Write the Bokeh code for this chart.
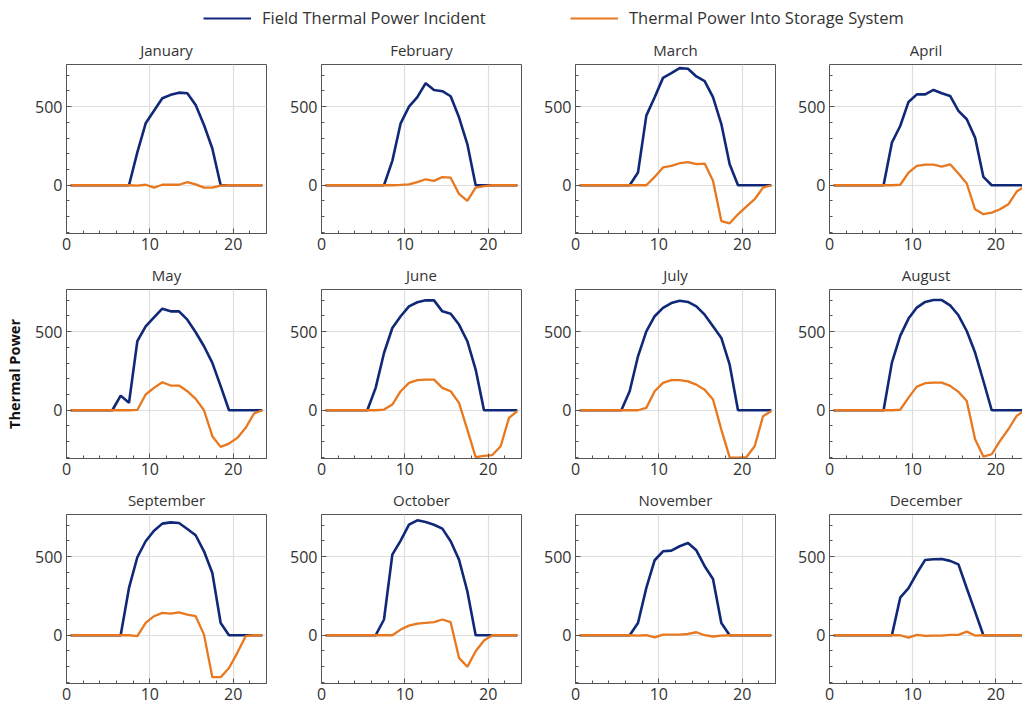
from bokeh.plotting import figure
from bokeh.models import (Range1d, LinearAxis, Legend, LegendItem, SingleIntervalTicker,
                          FixedTicker, ColumnDataSource)
from bokeh.layouts import column, row
from bokeh.embed import file_html
from bokeh.resources import INLINE

# ---------------- data ----------------
months = ["January", "February", "March", "April", "May", "June",
          "July", "August", "September", "October", "November", "December"]

hours = [0.5, 1.5, 2.5, 3.5, 4.5, 5.5, 6.5, 7.5, 8.5, 9.5, 10.5, 11.5,
         12.5, 13.5, 14.5, 15.5, 16.5, 17.5, 18.5, 19.5, 20.5, 21.5, 22.5, 23.5]

field_jan = [0, 0, 0, 0, 0, 0, 0, 0, 209, 394, 474, 553, 575, 589, 585, 510, 383, 234, 0, 0, 0, 0, 0, 0]
store_jan = [0, 0, 0, 0, 0, 0, 0, 0, -2, 3, -15, 3, 3, 3, 20, 5, -15, -15, -3, 0, 0, 0, 0, 0]

field_feb = [0, 0, 0, 0, 0, 0, 0, 0, 155, 394, 500, 560, 649, 606, 598, 566, 432, 262, 0, 0, 0, 0, 0, 0]
store_feb = [0, 0, 0, 0, 0, 0, 0, 0, 0, 2, 5, 20, 38, 28, 52, 48, -55, -100, -15, -5, 0, 0, 0, 0]

field_mar = [0, 0, 0, 0, 0, 0, 0, 81, 443, 560, 683, 713, 745, 741, 692, 662, 560, 389, 134, 0, 0, 0, 0, 0]
store_mar = [0, 0, 0, 0, 0, 0, 0, 0, 0, 53, 113, 123, 140, 147, 134, 138, 28, -228, -242, -185, -136, -89, -15, 0]

field_apr = [0, 0, 0, 0, 0, 0, 0, 271, 377, 530, 578, 578, 606, 585, 568, 473, 420, 303, 53, 0, 0, 0, 0, 0]
store_apr = [0, 0, 0, 0, 0, 0, 0, 0, 3, 80, 123, 131, 131, 119, 133, 74, 11, -153, -184, -174, -153, -121, -40, -5]

field_may = [0, 0, 0, 0, 0, 0, 93, 47, 439, 534, 591, 646, 629, 629, 576, 496, 407, 301, 153, 0, 0, 0, 0, 0]
store_may = [0, 0, 0, 0, 0, 0, 0, 0, 2, 100, 142, 178, 157, 157, 121, 72, 0, -165, -233, -212, -176, -112, -21, 0]

field_jun = [0, 0, 0, 0, 0, 0, 142, 364, 523, 598, 661, 687, 699, 699, 629, 614, 545, 439, 259, 0, 0, 0, 0, 0]
store_jun = [0, 0, 0, 0, 0, 0, 0, 4, 36, 121, 174, 191, 195, 195, 142, 121, 47, -123, -298, -290, -285, -229, -49, -5]

field_jul = [0, 0, 0, 0, 0, 0, 121, 343, 502, 598, 651, 682, 697, 689, 661, 608, 534, 460, 290, 0, 0, 0, 0, 0]
store_jul = [0, 0, 0, 0, 0, 0, 0, 0, 15, 121, 174, 191, 191, 184, 163, 131, 68, -123, -300, -301, -299, -229, -38, -5]

field_aug = [0, 0, 0, 0, 0, 0, 0, 303, 473, 583, 653, 689, 701, 701, 667, 604, 504, 367, 186, 0, 0, 0, 0, 0]
store_aug = [0, 0, 0, 0, 0, 0, 0, 0, 3, 80, 150, 172, 176, 176, 155, 117, 59, -184, -295, -280, -195, -121, -36, 0]

field_sep = [0, 0, 0, 0, 0, 0, 0, 301, 496, 598, 665, 710, 718, 714, 676, 636, 534, 396, 78, 0, 0, 0, 0, 0]
store_sep = [0, 0, 0, 0, 0, 0, 0, 0, -6, 78, 121, 142, 138, 146, 131, 121, 4, -267, -267, -208, -112, -6, 0, 0]

field_oct = [0, 0, 0, 0, 0, 0, 0, 100, 513, 602, 703, 731, 720, 703, 678, 598, 481, 280, 0, 0, 0, 0, 0, 0]
store_oct = [0, 0, 0, 0, 0, 0, 0, 0, 0, 36, 61, 74, 78, 83, 100, 83, -144, -201, -102, -34, 0, 0, 0, 0]

field_nov = [0, 0, 0, 0, 0, 0, 0, 78, 301, 477, 534, 538, 566, 587, 540, 439, 358, 78, 0, 0, 0, 0, 0, 0]
store_nov = [0, 0, 0, 0, 0, 0, 0, -2, 0, -13, 4, 4, 4, 8, 19, 0, -8, -2, 0, 0, 0, 0, 0, 0]

field_dec = [0, 0, 0, 0, 0, 0, 0, 0, 239, 299, 394, 479, 483, 485, 473, 451, 299, 150, 0, 0, 0, 0, 0, 0]
store_dec = [0, 0, 0, 0, 0, 0, 0, 0, 0, -15, 2, -4, -2, -2, 2, 2, 23, -2, 0, 0, 0, 0, 0, 0]

field_series = [field_jan, field_feb, field_mar, field_apr, field_may, field_jun,
                field_jul, field_aug, field_sep, field_oct, field_nov, field_dec]
store_series = [store_jan, store_feb, store_mar, store_apr, store_may, store_jun,
                store_jul, store_aug, store_sep, store_oct, store_nov, store_dec]

legend_labels = ["Field Thermal Power Incident", "Thermal Power Into Storage System"]
y_label = "Thermal Power"

# ---------------- style ----------------
BLUE = "#102878"
ORANGE = "#e8781f"
FRAME = "#555555"
TXT = "#333333"
GRID = "#dedede"
FONT = "Open Sans"

Y_LO, Y_HI = -307, 768
col_borders = [(66, 20), (35, 19), (35, 20), (34, 0)]
col_widths = [286, 254, 255, 227]
row_heights = [225, 225, 223]
row_bottom = [24, 24, 22]
TOP = 31


def style_axis(ax, size="16px"):
    ax.axis_line_color = FRAME
    ax.major_tick_line_color = FRAME
    ax.minor_tick_line_color = FRAME
    ax.major_tick_in = 5
    ax.major_tick_out = 0
    ax.minor_tick_in = 3
    ax.minor_tick_out = 0
    ax.major_label_text_font = FONT
    ax.major_label_text_font_size = size
    ax.major_label_text_color = TXT
    ax.major_label_standoff = 4


figs = []
for i, name in enumerate(months):
    r, c = divmod(i, 4)
    lb, rb = col_borders[c]
    x_end = 24 if c < 3 else 23.2
    p = figure(width=col_widths[c], height=row_heights[r], output_backend="svg",
               toolbar_location=None, x_range=Range1d(0, x_end), y_range=Range1d(Y_LO, Y_HI),
               min_border_left=lb, min_border_right=rb, min_border_top=TOP,
               min_border_bottom=row_bottom[r], title=name)
    p.title.align = "center"
    p.title.text_font = FONT
    p.title.text_font_size = "15px"
    p.title.text_font_style = "normal"
    p.title.text_color = TXT
    p.title.standoff = 10
    p.background_fill_color = "white"
    p.border_fill_color = "white"
    p.xaxis.ticker = SingleIntervalTicker(interval=10, num_minor_ticks=5)
    p.yaxis.ticker = SingleIntervalTicker(interval=500, num_minor_ticks=5)
    style_axis(p.xaxis[0])
    style_axis(p.yaxis[0])
    p.xgrid.grid_line_color = GRID
    p.ygrid.grid_line_color = GRID
    p.xgrid.grid_line_width = 1.2
    p.ygrid.grid_line_width = 1.2
    if c < 3:
        p.outline_line_color = FRAME
        p.outline_line_alpha = 1
    else:
        p.outline_line_color = None
        top = LinearAxis(ticker=FixedTicker(ticks=[]), axis_line_color=FRAME,
                         major_tick_out=0, major_tick_in=0, minor_tick_out=0, minor_tick_in=0,
                         major_label_standoff=0)
        p.add_layout(top, "above")
    if r == 1 and c == 0:
        p.yaxis.axis_label = y_label
        p.yaxis.axis_label_text_font = FONT
        p.yaxis.axis_label_text_font_style = "bold"
        p.yaxis.axis_label_text_font_size = "14.5px"
        p.yaxis.axis_label_text_color = "#111111"
        p.yaxis.axis_label_standoff = 8
    src = ColumnDataSource(data=dict(x=hours, f=field_series[i], s=store_series[i]))
    p.line("x", "f", source=src, line_color=BLUE, line_width=2.6)
    p.line("x", "s", source=src, line_color=ORANGE, line_width=2.3)
    figs.append(p)

# ---------------- legend strip ----------------
lg = figure(width=1022, height=32, output_backend="svg", toolbar_location=None,
            x_range=Range1d(-2, -1), y_range=Range1d(-2, -1), x_axis_type=None, y_axis_type=None,
            min_border_left=0, min_border_right=0, min_border_top=0, min_border_bottom=0)
lg.outline_line_color = None
lg.xgrid.visible = False
lg.ygrid.visible = False
lsrc = ColumnDataSource(data=dict(x=hours, f=field_jan, s=store_jan))
r1 = lg.line("x", "f", source=lsrc, line_color=BLUE, line_width=2)
r2 = lg.line("x", "s", source=lsrc, line_color=ORANGE, line_width=2)
for rend, lab, xloc in [(r1, legend_labels[0], 203), (r2, legend_labels[1], 570)]:
    leg = Legend(items=[LegendItem(label=lab, renderers=[rend])], location=(xloc, 3),
                 orientation="horizontal", padding=0, margin=0, border_line_color=None,
                 background_fill_alpha=0, glyph_width=48, glyph_height=18, label_height=18,
                 label_standoff=11, label_text_font=FONT, label_text_font_size="16.5px",
                 label_text_color=TXT, label_text_baseline="middle")
    lg.add_layout(leg)

layout = column(lg, row(*figs[0:4]), row(*figs[4:8]), row(*figs[8:12]))

open("out.html", "w").write(file_html(layout, INLINE))
